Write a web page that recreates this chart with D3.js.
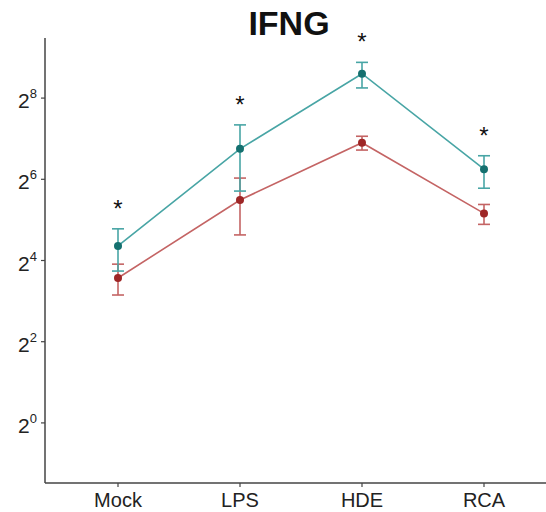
<!DOCTYPE html>
<html><head><meta charset="utf-8">
<script src="https://cdn.jsdelivr.net/npm/d3@7"></script>
<style>body{margin:0;background:#fff;} svg{display:block;}</style>
</head><body>
<svg id="c" width="546" height="512"></svg>
<script>
const categories = ["Mock","LPS","HDE","RCA"];
// log2 values
const tealMean = [4.36, 6.75, 8.60, 6.25];
const tealLow  = [3.74, 5.71, 8.25, 5.78];
const tealHigh = [4.78, 7.34, 8.88, 6.58];
const redMean  = [3.57, 5.49, 6.90, 5.16];
const redLow   = [3.15, 4.63, 6.72, 4.89];
const redHigh  = [3.91, 6.03, 7.06, 5.38];
const signif   = ["*","*","*","*"];
const yTicks   = [0,2,4,6,8];

const svg = d3.select("#c");
const mLeft = 45, mRight = 546, mTop = 38, mBottom = 483;
const x = d3.scalePoint().domain(categories).range([118, 484]);
const y = d3.scaleLinear().domain([-1.48, 9.48]).range([mBottom, mTop]);

const font = "'Liberation Sans', Arial, Helvetica, sans-serif";

// title
svg.append("text").attr("x", 289).attr("y", 35).attr("text-anchor","middle")
  .attr("font-family", font).attr("font-weight","bold").attr("font-size", 34).attr("fill","#111").text("IFNG");

// axes
const axisColor = "#444";
svg.append("line").attr("x1", mLeft).attr("x2", mLeft).attr("y1", mTop).attr("y2", mBottom)
  .attr("stroke", axisColor).attr("stroke-width", 1.5);
svg.append("line").attr("x1", mLeft).attr("x2", mRight).attr("y1", mBottom).attr("y2", mBottom)
  .attr("stroke", axisColor).attr("stroke-width", 1.5);

// y ticks
const yt = svg.append("g");
yTicks.forEach(t => {
  yt.append("line").attr("x1", mLeft-4).attr("x2", mLeft).attr("y1", y(t)).attr("y2", y(t)).attr("stroke", axisColor).attr("stroke-width",1.2);
  const tx = yt.append("text").attr("x", 37).attr("y", y(t)+10).attr("text-anchor","end")
    .attr("font-family", font).attr("font-size", 21).attr("fill","#222");
  tx.append("tspan").text("2");
  tx.append("tspan").attr("font-size", 13).attr("dy", -10).text(t);
});

// x ticks
categories.forEach(c => {
  svg.append("line").attr("x1", x(c)).attr("x2", x(c)).attr("y1", mBottom).attr("y2", mBottom+4).attr("stroke", axisColor).attr("stroke-width",1.2);
  svg.append("text").attr("x", x(c)).attr("y", 507).attr("text-anchor","middle")
    .attr("font-family", font).attr("font-size", 20).attr("fill","#222").text(c);
});

function series(mean, low, high, lineColor, ptColor) {
  const g = svg.append("g");
  const pts = categories.map((c,i)=>[x(c), y(mean[i])]);
  g.append("path").attr("d", d3.line()(pts)).attr("fill","none").attr("stroke", lineColor).attr("stroke-width", 1.6);
  categories.forEach((c,i) => {
    const cx = x(c);
    g.append("line").attr("x1",cx).attr("x2",cx).attr("y1",y(low[i])).attr("y2",y(high[i])).attr("stroke",lineColor).attr("stroke-width",1.6);
    [low[i], high[i]].forEach(v => g.append("line").attr("x1",cx-6).attr("x2",cx+6).attr("y1",y(v)).attr("y2",y(v)).attr("stroke",lineColor).attr("stroke-width",1.6));
    g.append("circle").attr("cx",cx).attr("cy",y(mean[i])).attr("r",4).attr("fill",ptColor);
  });
}
series(redMean, redLow, redHigh, "#c46464", "#9e2626");
series(tealMean, tealLow, tealHigh, "#48a5a5", "#14706f");

// significance stars
categories.forEach((c,i) => {
  svg.append("text").attr("x", x(c)).attr("y", y(tealHigh[i]) - 12).attr("text-anchor","middle")
    .attr("font-family", font).attr("font-size", 24).attr("fill","#111").text(signif[i]);
});
</script>
</body></html>
